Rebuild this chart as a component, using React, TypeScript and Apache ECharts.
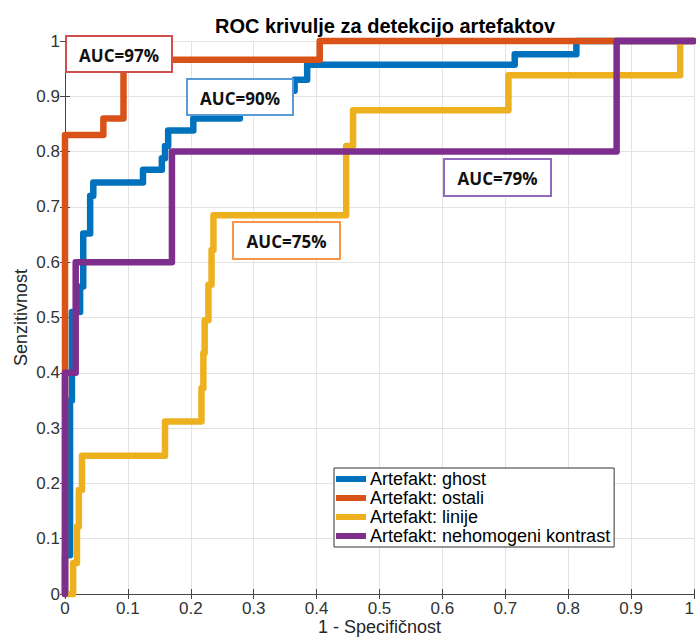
import React, { useEffect, useRef } from "react";
import * as echarts from "echarts";

// ROC curve corner points (1 - specificity, sensitivity); drawn with step: 'end'
const ghostFpr = [0, 0, 0.008, 0.011, 0.024, 0.029, 0.04, 0.045, 0.124, 0.154, 0.159, 0.164, 0.204, 0.278, 0.365, 0.385, 0.715, 0.813, 1];
const ghostTpr = [0, 0.07, 0.35, 0.51, 0.556, 0.652, 0.72, 0.744, 0.767, 0.788, 0.81, 0.838, 0.86, 0.91, 0.93, 0.957, 0.976, 1, 1];

const ostaliFpr = [0, 0, 0.061, 0.093, 0.405, 1];
const ostaliTpr = [0, 0.83, 0.86, 0.966, 1, 1];

const linijeFpr = [0, 0.013, 0.019, 0.022, 0.027, 0.159, 0.217, 0.22, 0.222, 0.228, 0.233, 0.236, 0.447, 0.458, 0.705, 0.978, 1];
const linijeTpr = [0, 0.056, 0.122, 0.188, 0.25, 0.312, 0.372, 0.436, 0.495, 0.559, 0.622, 0.685, 0.81, 0.875, 0.938, 1, 1];

const kontrastFpr = [0, 0, 0.017, 0.17, 0.877, 1];
const kontrastTpr = [0, 0.4, 0.6, 0.8, 1, 1];

const seriesNames = ["Artefakt: ghost", "Artefakt: ostali", "Artefakt: linije", "Artefakt: nehomogeni kontrast"];
const seriesColors = ["#0072BD", "#D95319", "#EDB120", "#7E2F8E"];
const aucLabels = ["AUC=90%", "AUC=97%", "AUC=75%", "AUC=79%"];
const aucBorders = ["#5B9BD5", "#D0504E", "#F79646", "#8E6BBF"];

const zip = (xs: number[], ys: number[]) => xs.map((x, i) => [x, ys[i]]);

export default function App() {
  const ref = useRef<HTMLDivElement>(null);
  useEffect(() => {
    if (!ref.current) return;
    const chart = echarts.init(ref.current, null, { renderer: "svg" });
    const datasets = [
      zip(ghostFpr, ghostTpr),
      zip(ostaliFpr, ostaliTpr),
      zip(linijeFpr, linijeTpr),
      zip(kontrastFpr, kontrastTpr),
    ];
    // annotation box positions (pixels)
    const boxes = [
      { x: 187, y: 79, w: 106, h: 36 },
      { x: 66, y: 36, w: 106, h: 36 },
      { x: 233, y: 222, w: 107, h: 37 },
      { x: 444, y: 159, w: 107, h: 37 },
    ];
    const graphics: any[] = [];
    boxes.forEach((b, i) => {
      graphics.push({
        type: "rect",
        z: 100,
        shape: { x: b.x, y: b.y, width: b.w, height: b.h },
        style: { fill: "#ffffff", stroke: aucBorders[i], lineWidth: 2 },
      });
      graphics.push({
        type: "text",
        z: 101,
        x: b.x + b.w / 2,
        y: b.y + b.h / 2 + 1,
        style: {
          text: aucLabels[i],
          fill: "#111",
          fontFamily: "Open Sans",
          fontWeight: "bold",
          fontSize: 17,
          align: "center",
          verticalAlign: "middle",
        },
      });
    });

    const axisCommon = {
      type: "value",
      min: 0,
      max: 1,
      interval: 0.1,
    };
    chart.setOption({
      animation: false,
      backgroundColor: "#ffffff",
      title: {
        text: "ROC krivulje za detekcijo artefaktov",
        left: 380,
        top: 11,
        textAlign: "center",
        textStyle: { fontFamily: "Liberation Sans", fontWeight: "bold", fontSize: 20, color: "#000" },
      },
      grid: { left: 65, right: 2, top: 41, bottom: 45, outerBoundsMode: "none", containLabel: false },
      legend: {
        data: seriesNames,
        orient: "vertical",
        left: 334,
        top: 468,
        icon: "rect",
        itemWidth: 30,
        itemHeight: 6,
        itemGap: 1,
        padding: [2, 4, 2, 2],
        backgroundColor: "#ffffff",
        borderColor: "#333",
        borderWidth: 1,
        borderRadius: 0,
        textStyle: { fontFamily: "Liberation Sans", fontSize: 18, color: "#000", padding: [0, 0, 0, -1] },
        z: 50,
      },
      xAxis: [
        {
          ...axisCommon,
          position: "bottom",
          name: "1 - Specifičnost",
          nameLocation: "middle",
          nameGap: 24,
          nameMoveOverlap: false,
          nameTextStyle: { fontFamily: "Liberation Sans", fontSize: 18, color: "#262626" },
          axisLine: { show: true, lineStyle: { color: "#444", width: 1 } },
          axisTick: { show: true, inside: true, length: 5, lineStyle: { color: "#444" } },
          axisLabel: { margin: 6, fontFamily: "Liberation Sans", fontSize: 17, color: "#333", alignMaxLabel: "right" },
          splitLine: { show: true, lineStyle: { color: "#e3e3e3", width: 1 } },
        },
        {
          ...axisCommon,
          position: "top",
          axisLine: { show: true, lineStyle: { color: "#444", width: 1 } },
          axisTick: { show: true, inside: true, length: 5, lineStyle: { color: "#444" } },
          axisLabel: { show: false },
          splitLine: { show: false },
        },
      ],
      yAxis: [
        {
          ...axisCommon,
          position: "left",
          name: "Senzitivnost",
          nameLocation: "middle",
          nameGap: 35,
          nameMoveOverlap: false,
          nameTextStyle: { fontFamily: "Liberation Sans", fontSize: 18, color: "#262626" },
          axisLine: { show: true, lineStyle: { color: "#444", width: 1 } },
          axisTick: { show: true, inside: true, length: 5, lineStyle: { color: "#444" } },
          axisLabel: { margin: 5, fontFamily: "Liberation Sans", fontSize: 17, color: "#333" },
          splitLine: { show: true, lineStyle: { color: "#e3e3e3", width: 1 } },
        },
        {
          ...axisCommon,
          position: "right",
          axisLine: { show: true, lineStyle: { color: "#444", width: 1 } },
          axisTick: { show: true, inside: true, length: 5, lineStyle: { color: "#444" } },
          axisLabel: { show: false },
          splitLine: { show: false },
        },
      ],
      series: datasets.map((d, i) => ({
        name: seriesNames[i],
        type: "line",
        step: "end",
        data: d,
        xAxisIndex: 0,
        yAxisIndex: 0,
        showSymbol: false,
        symbol: "none",
        clip: false,
        color: seriesColors[i],
        lineStyle: { color: seriesColors[i], width: 6.5, cap: "round", join: "round" },
        z: 2 + i,
      })),
      graphic: graphics,
    });
    return () => chart.dispose();
  }, []);
  return <div ref={ref} style={{ position: "fixed", left: 0, top: 0, width: 696, height: 639 }} />;
}
